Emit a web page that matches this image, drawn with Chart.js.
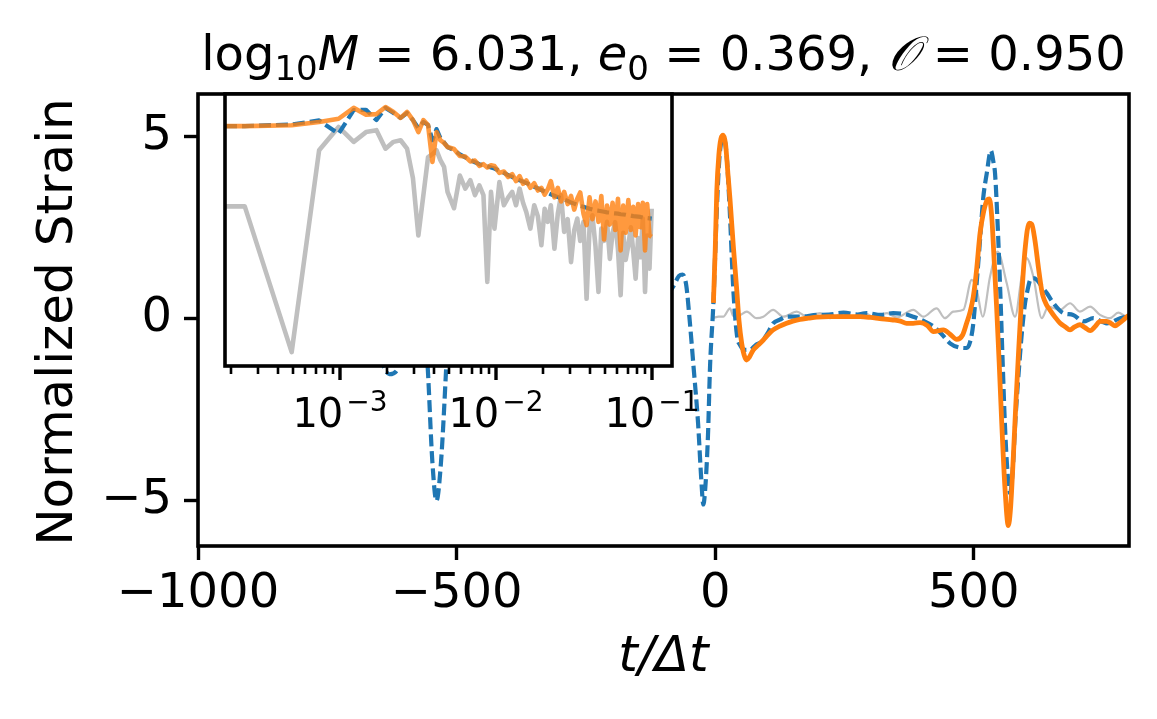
<!DOCTYPE html>
<html>
<head>
<meta charset="utf-8">
<script src="https://cdn.jsdelivr.net/npm/chart.js@4.4.1/dist/chart.umd.min.js"></script>
<style>
html,body{margin:0;padding:0;background:#fff;overflow:hidden}
#wrap{position:relative;width:1157px;height:719px;background:#fff}
canvas{position:absolute;left:0;top:0}
</style>
</head>
<body>
<div id="wrap">
<canvas id="main" width="1157" height="719"></canvas>
<canvas id="inset" width="1157" height="719"></canvas>
</div>
<script>
// ---------------- main panel data ----------------
const tBlue = [-940,-900,-860,-820,-780,-740,-705,-672,-648,-630,-614,-597,-580,-566,-556,-547,-539,-530,-520,-508,-497,-486,-472,-457,-435,-405,-370,-330,-290,-250,-210,-170,-135,-105,-81,-70,-63,-56,-49,-42,-33,-27,-23,-19,-14,-10,-3.5,2,8,16,22,28,35,42,48,58,67,78,90,101,112,125,138,164,196,220,248,275,293,320,344,370,383,402,422,438,454,470,486,493,499,505,512,518,525,533,538,541,546,551,556,560,565,570,575,580,585,589,594,599,604,609,615,622,631,641,654,673,692,712,731,757,783,796,800];
const blueMain = [0.05,-0.1,0.15,-0.2,0.25,-0.35,0.4,-0.4,-1.1,-1.52,-1.38,-0.4,0.7,0.6,-1.3,-3.9,-5.0,-3.9,-1.3,2.2,4.6,3.8,0.3,-0.9,-0.6,-0.1,0.15,0.05,-0.1,0.1,-0.15,0.2,-0.1,0.4,0.89,1.18,1.22,0.92,-0.1,-1.3,-2.9,-4.4,-5.1,-4.6,-3.2,-1.3,0.44,2.6,4.4,5.0,4.5,3.0,0.8,-0.45,-0.72,-0.85,-0.85,-0.72,-0.62,-0.4,-0.12,-0.02,0.06,0.06,0.11,0.12,0.17,0.12,0.16,0.11,0.16,0.12,0.06,-0.05,-0.21,-0.42,-0.67,-0.78,-0.8,-0.62,-0.12,0.9,2.17,3.3,4.0,4.62,4.3,4.0,2.6,0.8,-1.3,-2.87,-4.2,-4.79,-4.2,-2.87,-1.8,-1.04,-0.2,0.43,0.8,1.07,1.12,1.07,0.9,0.71,0.43,0.16,0.11,-0.07,0.02,-0.12,0.02,0.06,0.08];

const tOrange = [-3.5,0,3,7,11,15.5,20,24.5,28.5,35,41.6,46,51.2,56,60.9,66,73.7,83,93,102,112,125,138,150,164,180,196,220,241,260,280,300,318,344,358,370,383,396,410,422,441,454,467,478,486,493,499,505,512,519,526,530,534.6,539,544,549,554,560,566.7,571,576.4,581,586,592,599,607,612,618,625,631,634,640,647,657,667,677,686,695,705,715,725,735,744,757,765,773,781,789,796,800];
const orangeMain = [0.44,1.9,3.5,4.5,4.95,5.05,4.8,4.0,3.3,2.0,0.8,-0.05,-0.67,-1.0,-1.13,-1.05,-0.85,-0.72,-0.58,-0.44,-0.3,-0.2,-0.12,-0.06,-0.01,0.02,0.05,0.06,0.06,0.06,0.06,0.04,0.01,-0.03,-0.06,-0.12,-0.12,-0.1,-0.18,-0.35,-0.3,-0.42,-0.56,-0.45,-0.12,0.2,0.61,1.3,2.35,2.95,3.27,3.3,2.81,1.7,0.34,-1.2,-2.87,-4.6,-5.68,-5.2,-3.78,-2.4,-1.04,0.5,1.9,2.63,2.6,2.17,1.4,0.8,0.61,0.4,0.25,0.05,-0.12,-0.22,-0.3,-0.22,-0.16,-0.24,-0.32,-0.2,-0.07,-0.07,-0.12,-0.19,-0.12,-0.03,0.06,0.1];

const tGray = [-3.5,6.6,15.6,28.6,35,47,61,80,93,112,131.6,157.6,177,202.6,222,248,267,286.6,306,332,351,383,402.4,428,444,460.4,479.7,496,505.6,517.2,531.3,546,563.6,579.7,592.5,602,615,631.3,644,666.7,686,705,724.7,744,763,779.4,796,800];
const grayMain = [0.03,0.06,0.06,0.29,0.08,0.1,0.2,0.02,0.06,0.25,0.06,0.2,0.06,0.16,0.02,0.16,0.06,0.17,0.06,0.16,0.04,0.25,0.06,0.29,0.02,0.2,0.25,1.07,0.8,0.06,1.16,1.85,0.98,0.06,1.16,1.67,1.16,0.02,0.34,0.25,0.43,0.2,0.34,0.11,0.02,0.17,0.06,0.08];

const xTicksMain = [-1000,-500,0,500];
const yTicksMain = [-5,0,5];

// ---------------- inset (spectrum) data ----------------
const fInset = [1.83e-4,2.45e-4,4.9e-4,7.35e-4,9.8e-4,1.225e-3,1.47e-3,1.715e-3,1.96e-3,2.205e-3,2.45e-3,2.695e-3,2.94e-3,3.185e-3,3.43e-3,3.675e-3,3.92e-3,4.165e-3,4.41e-3,4.655e-3,4.9e-3,
 5.39e-3,5.88e-3,6.37e-3,6.86e-3,7.35e-3,7.84e-3,8.33e-3,8.82e-3,9.31e-3,9.8e-3,
 0.01054,0.01127,0.01201,0.01274,0.01348,0.01421,0.01495,0.01568,
 0.01666,0.01764,0.01862,0.0196,0.02058,0.02156,0.02254,
 0.02377,0.02499,0.02622,0.02744,
 0.02891,0.03038,0.03185,0.03332,0.03479,
 0.03651,0.03822,0.03994,0.04165,
 0.04361,0.04557,0.04753,0.04949,
 0.0517,0.0539,0.05611,0.05831,
 0.06076,0.06321,0.06566,0.06811,
 0.0708,0.0735,0.0762,0.07889,
 0.08183,0.08477,0.08771,0.09065,0.09359,
 0.09678,0.1];
const blueInset = [8.82,8.82,8.88,9.03,8.54,9.41,9.42,9.04,9.49,9.30,9.12,9.30,9.04,8.75,8.97,8.86,8.30,8.71,8.38,8.22,8.05,
 7.93,7.78,7.67,7.58,7.49,7.42,7.38,7.34,7.30,7.26,
 7.18,7.10,7.02,6.95,6.89,6.83,6.78,6.73,
 6.66,6.59,6.53,6.47,6.41,6.36,6.31,
 6.26,6.21,6.17,6.12,
 6.07,6.01,5.97,5.92,5.89,
 5.85,5.82,5.78,5.75,
 5.72,5.71,5.69,5.67,
 5.65,5.64,5.62,5.61,
 5.60,5.58,5.57,5.56,
 5.54,5.53,5.51,5.50,
 5.49,5.48,5.46,5.45,5.44,
 5.43,5.42];
const orangeInset = [8.82,8.82,8.85,8.97,9.09,9.49,9.24,9.26,9.52,9.34,9.12,9.34,9.04,8.60,9.04,8.86,7.50,8.60,8.30,8.20,8.05,
 7.98,7.72,7.70,7.52,7.55,7.36,7.42,7.30,7.38,7.35,
 7.10,7.15,6.95,7.05,6.80,6.98,6.70,6.82,
 6.55,6.72,6.45,6.55,6.30,6.50,6.80,
 6.20,6.55,6.05,6.40,
 5.95,6.25,5.75,6.15,6.38,
 5.60,5.18,6.20,5.40,
 6.05,5.30,6.25,4.65,
 5.90,5.20,6.00,5.00,
 6.15,4.25,5.90,4.90,
 6.10,5.00,5.85,4.80,
 5.95,5.10,6.00,4.25,5.95,
 4.80,4.75];
const grayInset = [5.87,5.87,0.51,7.93,8.79,8.24,8.60,8.67,7.99,8.24,8.30,7.99,6.90,4.80,6.29,7.68,7.79,7.93,7.57,7.32,6.40,
 5.80,7.00,6.52,6.83,6.28,6.64,6.28,3.09,6.40,5.05,
 6.76,5.91,6.20,6.40,5.91,6.52,6.00,5.66,
 5.05,5.91,5.50,4.44,5.78,5.30,5.91,
 4.31,5.60,6.28,4.93,
 5.40,3.82,5.00,5.42,4.60,
 5.30,2.47,5.10,5.54,
 4.40,2.72,5.05,4.60,
 5.30,3.94,4.90,5.29,
 4.30,2.60,4.90,3.90,
 4.44,5.10,4.20,3.21,
 4.70,4.00,5.42,2.72,4.80,
 3.58,5.78];

const insetMajor = [1e-3,1e-2,1e-1];
const insetMajorExp = ['\u22123','\u22122','\u22121'];
const insetMinor = [2e-4,3e-4,4e-4,5e-4,6e-4,7e-4,8e-4,9e-4,2e-3,3e-3,4e-3,5e-3,6e-3,7e-3,8e-3,9e-3,2e-2,3e-2,4e-2,5e-2,6e-2,7e-2,8e-2,9e-2];

// title pieces: [text, style]
const titleParts = [['log','r'],['10','sub'],['M','i'],[' = 6.031, ','r'],['e','i'],['0','sub'],[' = 0.369, ','r'],['\u{1D4AA}','cal'],[' = 0.950','r']];
const xLabel = 't/\u0394t';
const yLabel = 'Normalized Strain';

// ---------------- helpers ----------------
const FAM = '"DejaVu Sans"';
const FS = 48;        // main font size
const FS_LAB = 50;    // y label font size
const FS_IN = 40;     // inset tick font size
const BLUE = '#1f77b4', ORANGE = '#ff7f0e', GRAY = '#bfbfbf';
const pts = (xs, ys) => xs.map((x, i) => ({x: x, y: ys[i]}));
const fmt = v => (v < 0 ? '\u2212' + Math.abs(v) : String(v));

const mainDeco = {
  id: 'mainDeco',
  afterDraw(chart) {
    const ctx = chart.ctx, a = chart.chartArea;
    ctx.save();
    ctx.strokeStyle = '#000'; ctx.lineWidth = 3.6;
    ctx.strokeRect(a.left, a.top, a.right - a.left, a.bottom - a.top);
    ctx.fillStyle = '#000';
    const fonts = {
      r: FS + 'px ' + FAM,
      i: 'italic ' + FS + 'px ' + FAM,
      sub: Math.round(FS * 0.7) + 'px ' + FAM,
      cal: 'italic ' + FS + 'px ' + FAM
    };
    let total = 0;
    const widths = titleParts.map(p => { ctx.font = fonts[p[1]]; const w = ctx.measureText(p[0]).width; total += w; return w; });
    let x = (a.left + a.right) / 2 - total / 2;
    const base = 70;
    ctx.textBaseline = 'alphabetic'; ctx.textAlign = 'left';
    titleParts.forEach((p, k) => {
      ctx.font = fonts[p[1]];
      ctx.fillText(p[0], x, p[1] === 'sub' ? base + FS * 0.2 : base);
      x += widths[k];
    });
    ctx.font = 'italic ' + FS_LAB + 'px ' + FAM;
    ctx.textAlign = 'center';
    ctx.fillText(xLabel, (a.left + a.right) / 2, 671);
    ctx.translate(72, (a.top + a.bottom) / 2 + 2);
    ctx.rotate(-Math.PI / 2);
    ctx.font = FS_LAB + 'px ' + FAM;
    ctx.fillText(yLabel, 0, 0);
    ctx.restore();
  }
};

new Chart(document.getElementById('main'), {
  type: 'line',
  data: {
    datasets: [
      {data: pts(tOrange, orangeMain), borderColor: ORANGE, borderWidth: 4.8},
      {data: pts(tBlue, blueMain), borderColor: BLUE, borderWidth: 4.2, borderDash: [12, 5]},
      {data: pts(tGray, grayMain), borderColor: GRAY, borderWidth: 2.2}
    ]
  },
  options: {
    responsive: false, animation: false, devicePixelRatio: 1,
    parsing: false,
    elements: {
      point: {radius: 0},
      line: {cubicInterpolationMode: 'monotone', fill: false, borderCapStyle: 'butt', borderJoinStyle: 'round'}
    },
    layout: {padding: {top: 94, right: 28, left: 0, bottom: 0}},
    plugins: {legend: {display: false}, tooltip: {enabled: false}, title: {display: false}},
    scales: {
      x: {
        type: 'linear', min: -1000, max: 800,
        afterFit: s => { s.height = 173; },
        afterBuildTicks: s => { s.ticks = xTicksMain.map(v => ({value: v})); },
        ticks: {font: {family: FAM, size: FS}, color: '#000', padding: 6, maxRotation: 0, autoSkip: false, callback: v => fmt(v)},
        grid: {drawOnChartArea: false, drawTicks: true, tickLength: 14, tickWidth: 3.4, tickColor: '#000'},
        border: {display: false}
      },
      y: {
        type: 'linear', min: -6.24, max: 6.18,
        afterFit: s => { s.width = 198; },
        afterBuildTicks: s => { s.ticks = yTicksMain.map(v => ({value: v})); },
        ticks: {font: {family: FAM, size: FS}, color: '#000', padding: 12, autoSkip: false, callback: v => fmt(v)},
        grid: {drawOnChartArea: false, drawTicks: true, tickLength: 14, tickWidth: 3.4, tickColor: '#000'},
        border: {display: false}
      }
    }
  },
  plugins: [mainDeco]
});

const insetDeco = {
  id: 'insetDeco',
  beforeDatasetsDraw(chart) {
    const ctx = chart.ctx, a = chart.chartArea;
    ctx.save(); ctx.fillStyle = '#fff';
    ctx.fillRect(a.left, a.top, a.right - a.left, a.bottom - a.top);
    ctx.restore();
  },
  afterDraw(chart) {
    const ctx = chart.ctx, a = chart.chartArea, sx = chart.scales.x;
    ctx.save();
    ctx.strokeStyle = '#000'; ctx.fillStyle = '#000';
    ctx.lineWidth = 3.6;
    ctx.strokeRect(a.left, a.top, a.right - a.left, a.bottom - a.top);
    ctx.lineWidth = 2.6;
    insetMinor.forEach(v => {
      const px = Math.round(sx.getPixelForValue(v));
      ctx.beginPath(); ctx.moveTo(px, a.bottom); ctx.lineTo(px, a.bottom + 8); ctx.stroke();
    });
    ctx.lineWidth = 3.4;
    insetMajor.forEach((v, k) => {
      const px = Math.round(sx.getPixelForValue(v));
      ctx.beginPath(); ctx.moveTo(px, a.bottom); ctx.lineTo(px, a.bottom + 14); ctx.stroke();
      ctx.font = FS_IN + 'px ' + FAM;
      const wb = ctx.measureText('10').width;
      ctx.font = Math.round(FS_IN * 0.7) + 'px ' + FAM;
      const we = ctx.measureText(insetMajorExp[k]).width;
      const gap = 3;
      let x0 = px - (wb + gap + we) / 2;
      ctx.textAlign = 'left'; ctx.textBaseline = 'alphabetic';
      ctx.font = FS_IN + 'px ' + FAM;
      ctx.fillText('10', x0, 427);
      ctx.font = Math.round(FS_IN * 0.7) + 'px ' + FAM;
      ctx.fillText(insetMajorExp[k], x0 + wb + gap, 411);
    });
    ctx.restore();
  }
};

new Chart(document.getElementById('inset'), {
  type: 'line',
  data: {
    datasets: [
      {data: pts(fInset, orangeInset), borderColor: 'rgba(255,127,14,0.8)', borderWidth: 4.6},
      {data: pts(fInset, blueInset), borderColor: BLUE, borderWidth: 4.2, borderDash: [12, 5]},
      {data: pts(fInset, grayInset), borderColor: GRAY, borderWidth: 4.6}
    ]
  },
  options: {
    responsive: false, animation: false, devicePixelRatio: 1,
    parsing: false,
    elements: {point: {radius: 0}, line: {tension: 0, fill: false, borderCapStyle: 'butt', borderJoinStyle: 'round'}},
    layout: {padding: {left: 225, right: 485, top: 94, bottom: 353}},
    plugins: {legend: {display: false}, tooltip: {enabled: false}},
    scales: {
      x: {type: 'logarithmic', min: 1.83e-4, max: 0.135, display: false},
      y: {type: 'linear', min: 0, max: 10, display: false}
    }
  },
  plugins: [insetDeco]
});
</script>
</body>
</html>
